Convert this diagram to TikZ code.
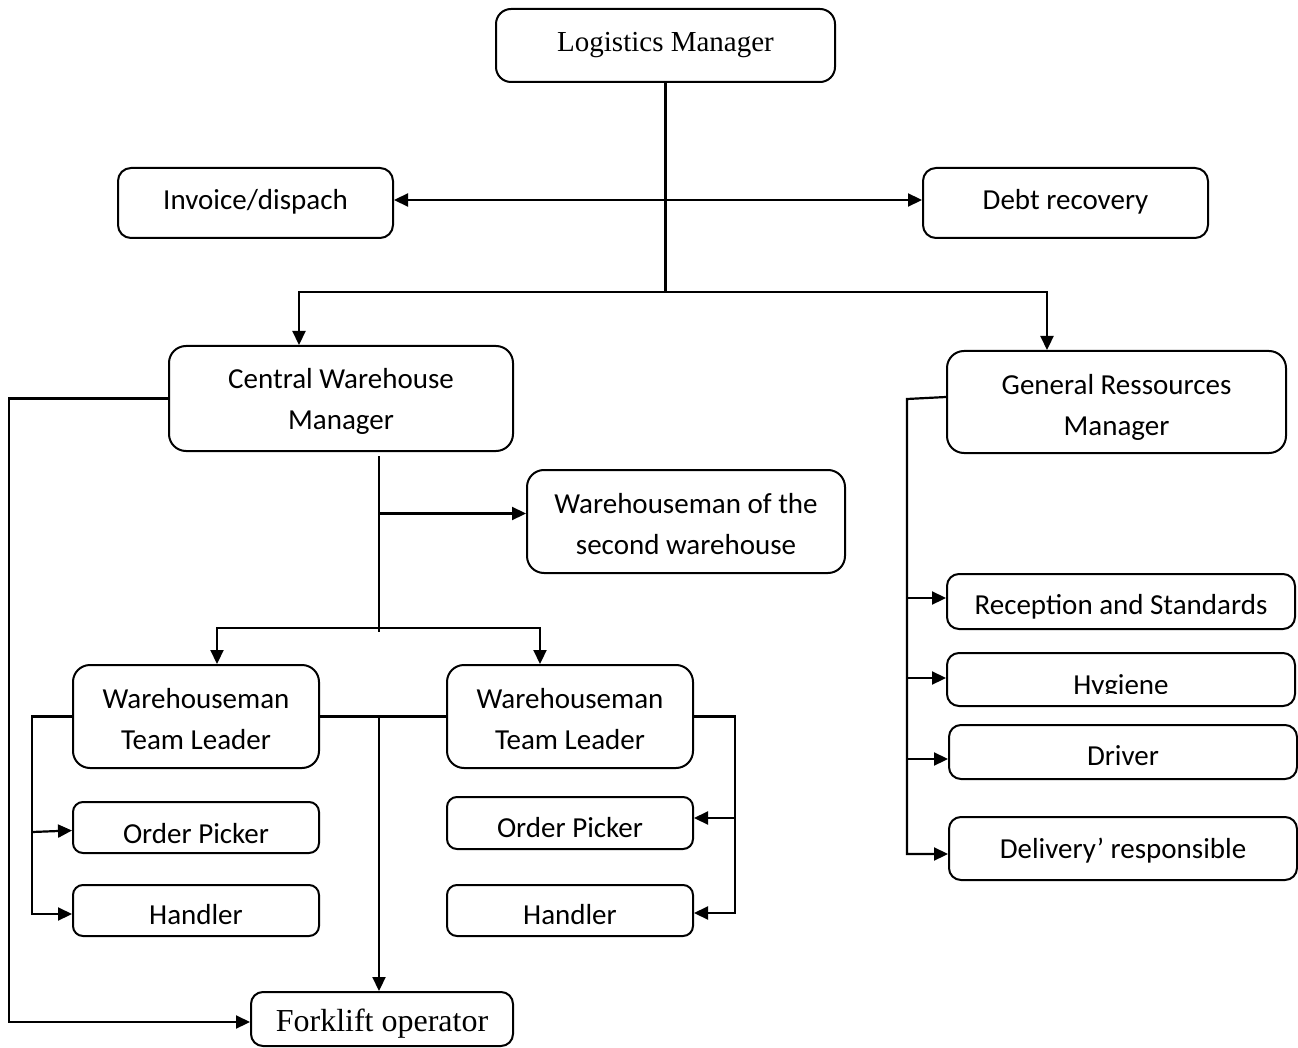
\documentclass[tikz,border=0pt]{standalone}
\usepackage{fontspec}
\setmainfont{Liberation Serif}
\newfontfamily\calibrifont{Carlito}
\usetikzlibrary{arrows.meta}
% invisible struts that set the top and bottom of a node's text block
\newcommand{\topstrut}[1]{\rule{0pt}{#1}}
\newcommand{\botstrut}{\rule[-8pt]{0pt}{8pt}}
\begin{document}
\begin{tikzpicture}[x=1pt,y=-1pt,
  ln/.style={line width=2.2pt},
  arr/.style={ln,-{Triangle[length=14pt,width=13pt]}},
  arrtwo/.style={ln,{Triangle[length=14pt,width=13pt]}-{Triangle[length=14pt,width=13pt]}},
  box/.style={draw,line width=2pt,rounded corners=#1,inner sep=0pt,align=center,
    font=\calibrifont\fontsize{29}{41}\selectfont},
  box/.default=12pt,
  bl/.style={text height=#1,text depth=8pt},
  serif/.style={font=\rmfamily\fontsize{#1}{#1}\selectfont},
]
\useasboundingbox (0,0) rectangle (1298,1048);

% ---- top level
\node[box=15pt,serif=29,minimum width=339pt,minimum height=73pt,bl=21pt] (lm) at (665.5,45.5) {Logistics Manager};
\node[box=13pt,minimum width=275pt,minimum height=70pt,bl=22pt] (inv) at (255.5,203) {Invoice/dispach};
\node[box=13pt,minimum width=285pt,minimum height=70pt,bl=22pt] (debt) at (1065.5,203) {Debt recovery};

% ---- managers
\node[box=17pt,minimum width=344pt,minimum height=105pt] (cwm) at (341,398.5)
  {\topstrut{29pt}Central Warehouse\\Manager\botstrut};
\node[box=17pt,minimum width=339pt,minimum height=102pt] (grm) at (1116.5,402)
  {\topstrut{34pt}General Ressources\\Manager\botstrut};
\node[box=17pt,minimum width=318pt,minimum height=103pt] (wsw) at (686,521.5)
  {\topstrut{32pt}Warehouseman of the\\second warehouse\botstrut};

% ---- team leaders and their staff
\node[box=17pt,minimum width=246pt,minimum height=103pt] (wtla) at (196,716.5)
  {\topstrut{32pt}Warehouseman\\Team Leader\botstrut};
\node[box=17pt,minimum width=246pt,minimum height=103pt] (wtlb) at (570,716.5)
  {\topstrut{32pt}Warehouseman\\Team Leader\botstrut};
\node[box=10pt,minimum width=246pt,minimum height=51pt,bl=39pt] (opa) at (196,827.5) {Order Picker};
\node[box=10pt,minimum width=246pt,minimum height=51pt,bl=35pt] (hda) at (196,910.5) {Handler};
\node[box=10pt,minimum width=246pt,minimum height=52pt,bl=36pt] (opb) at (570,823) {Order Picker};
\node[box=10pt,minimum width=246pt,minimum height=51pt,bl=35pt] (hdb) at (570,910.5) {Handler};
\node[box=12pt,serif=32,minimum width=262pt,minimum height=54pt,bl=32pt] (fo) at (382,1019) {Forklift operator};

% ---- general resources staff
\node[box=12pt,minimum width=348pt,minimum height=55pt,bl=34pt] (rs) at (1121,601.5) {Reception and Standards};
\node[box=12pt,minimum width=348pt,minimum height=53pt,
  path picture={
    \clip (path picture bounding box.north west) rectangle ([yshift=13pt]path picture bounding box.south east);
    \node[inner sep=0pt,font=\calibrifont\fontsize{29}{41}\selectfont,bl=38pt] at (path picture bounding box.center) {Hygiene};
  }] (hy) at (1121,679.5) {};
\node[box=12pt,minimum width=348pt,minimum height=54pt,bl=34pt] (dr) at (1123,752) {Driver};
\node[box=12pt,minimum width=348pt,minimum height=63pt,bl=27pt] (dl) at (1123,848.5) {Delivery’ responsible};

% ---- junction points of the connector runs
\coordinate (topbus) at (665,292);
\coordinate (leftrail) at (9,0);
\coordinate (cwmtop) at (379,456);
\coordinate (cwmbus) at (379,628);
\coordinate (cwmend) at (379,632);
\coordinate (leadbus) at (379,716.5);
\coordinate (wtlrail) at (32,0);
\coordinate (wtrrail) at (735,0);
\coordinate (grmrail) at (907,0);

% Logistics Manager to its departments
\draw[ln] (lm.south) -- (lm.south |- topbus);
\draw[arrtwo] ([yshift=3pt]inv.east) -- ([yshift=3pt]debt.west);
\draw[arr] (lm.south |- topbus) -| ([xshift=-42pt]cwm.north);
\draw[arr] (lm.south |- topbus) -| ([xshift=-69.5pt]grm.north);

% Central Warehouse Manager
\draw[arr] (cwm.west) -- (cwm.west -| leftrail) |- ([yshift=-3pt]fo.west);
\draw[ln] (cwmtop) -- (cwmend);
\coordinate (wswin) at ([yshift=8pt]wsw.west);
\draw[arr] (cwmtop |- wswin) -- (wswin);
\draw[arr] (cwmbus) -| ([xshift=21pt]wtla.north);
\draw[arr] (cwmbus) -| ([xshift=-30pt]wtlb.north);

% team leaders
\draw[ln] (wtla.east) -- (wtlb.west);
\draw[arr] (leadbus) -- (leadbus |- fo.north);
\draw[arr] (wtla.west) -- (wtla.west -| wtlrail) |- ([yshift=-3.5pt]hda.west);
\coordinate (opain) at ([yshift=-3pt]opa.west);
\draw[arr] ([yshift=-1.5pt]wtlrail |- opain) -- (opain);
\draw[arr] (wtlb.east) -- (wtlb.east -| wtrrail) |- ([yshift=-2.5pt]hdb.east);
\coordinate (opbin) at ([yshift=5pt]opb.east);
\draw[arr] (wtrrail |- opbin) -- (opbin);

% General Ressources Manager
\coordinate (grmout) at ([yshift=5pt]grm.west);
\draw[arr] (grmout) -- ([yshift=-2pt]grmout -| grmrail) |- ([yshift=-5.5pt]dl.west);
\coordinate (rsin) at ([yshift=3.5pt]rs.west);
\coordinate (hyin) at ([yshift=1.5pt]hy.west);
\coordinate (drin) at ([yshift=-7pt]dr.west);
\draw[arr] (grmrail |- rsin) -- (rsin);
\draw[arr] (grmrail |- hyin) -- (hyin);
\draw[arr] (grmrail |- drin) -- (drin);
\end{tikzpicture}
\end{document}
